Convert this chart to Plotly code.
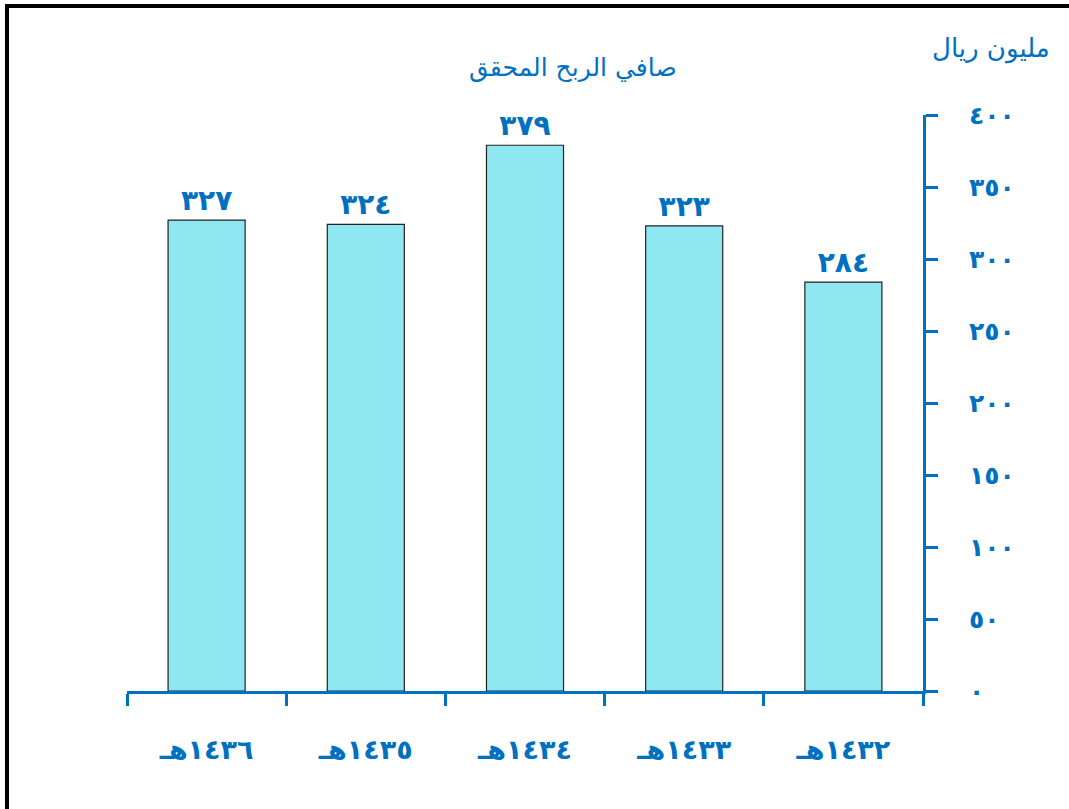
import plotly.graph_objects as go

categories = ["١٤٣٦هـ", "١٤٣٥هـ", "١٤٣٤هـ", "١٤٣٣هـ", "١٤٣٢هـ"]
values = [327, 324, 379, 323, 284]
y_ticks = [0, 50, 100, 150, 200, 250, 300, 350, 400]
title_text = "صافي الربح المحقق"
y_title = "مليون ريال"

AR = str.maketrans("0123456789", "٠١٢٣٤٥٦٧٨٩")
def ar(n):
    return str(n).translate(AR)

BLUE = "#0070C0"
FONT = "DejaVu Sans"
W, H = 1069, 809
L, R, T, B = 127, 146, 115, 118
pw, ph = W - L - R, H - T - B

def px_x(x):
    return (x - L) / pw
def px_y(y):
    return (H - B - y) / ph

fig = go.Figure()
fig.add_trace(go.Bar(
    x=categories, y=values,
    marker=dict(color="#8FE7F1", line=dict(color="#222222", width=1.2)),
    text=[ar(v) for v in values], textposition="outside",
    textfont=dict(family=FONT, size=28, color=BLUE, weight="bold"),
    cliponaxis=False, hoverinfo="skip",
))

fig.update_layout(
    width=W, height=H, margin=dict(l=L, r=R, t=T, b=B),
    paper_bgcolor="white", plot_bgcolor="white",
    bargap=0.516, showlegend=False,
    font=dict(family=FONT, color=BLUE),
    xaxis=dict(showline=True, linecolor=BLUE, linewidth=3, ticks="outside",
               tickson="boundaries", ticklen=12, tickwidth=3, tickcolor=BLUE,
               showgrid=False,
               tickfont=dict(family=FONT, size=27, color=BLUE, weight="bold"),
               ticklabelstandoff=33),
    yaxis=dict(side="right", range=[0, 400], showline=True, linecolor=BLUE, linewidth=3,
               ticks="outside", ticklen=12, tickwidth=3, tickcolor=BLUE,
               showgrid=False, zeroline=False, tickvals=y_ticks,
               ticktext=[ar(v) for v in y_ticks],
               tickfont=dict(family=FONT, size=25, color=BLUE, weight="bold"),
               ticklabelstandoff=26),
    annotations=[
        dict(text=title_text, x=px_x(573), y=px_y(68), xref="paper", yref="paper",
             xanchor="center", yanchor="middle", showarrow=False,
             font=dict(family=FONT, size=25, color=BLUE)),
        dict(text=y_title, x=px_x(991), y=px_y(48), xref="paper", yref="paper",
             xanchor="center", yanchor="middle", showarrow=False,
             font=dict(family=FONT, size=26, color=BLUE)),
    ],
    shapes=[
        dict(type="line", xref="paper", yref="paper", x0=px_x(5), x1=px_x(W),
             y0=px_y(6), y1=px_y(6), line=dict(color="black", width=4)),
        dict(type="line", xref="paper", yref="paper", x0=px_x(7), x1=px_x(7),
             y0=px_y(4), y1=px_y(H), line=dict(color="black", width=4)),
    ],
)

fig.write_html("out.html", config={"displayModeBar": False},
               post_script="document.body.style.margin='0';")
